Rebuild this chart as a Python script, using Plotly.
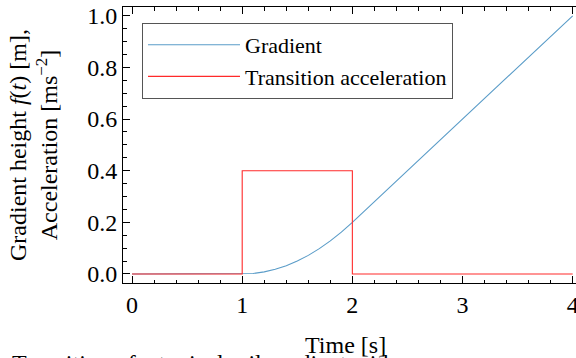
import plotly.graph_objects as go

# Gradient height f(t) [m]
grad_t = [0.0, 0.5, 1.0, 1.1, 1.2, 1.3, 1.4, 1.5, 1.6, 1.7, 1.8, 1.9, 2.0, 2.5, 3.0, 3.5, 4.0]
grad_f = [0.0, 0.0, 0.0, 0.002, 0.008, 0.018, 0.032, 0.05, 0.072, 0.098, 0.128, 0.162, 0.2, 0.4, 0.6, 0.8, 1.0]

# Transition acceleration [m s^-2] (step profile)
acc_t = [0.0, 1.0, 2.0, 4.0]
acc_a = [0.0, 0.4, 0.0, 0.0]

x_ticks = [0, 1, 2, 3, 4]
y_ticks = [0.0, 0.2, 0.4, 0.6, 0.8, 1.0]
y_tick_labels = ["0.0", "0.2", "0.4", "0.6", "0.8", "1.0"]

FONT = "Liberation Serif"
BLUE = "#5a9cc8"
RED = "#ff2a2a"

fig = go.Figure()
fig.add_trace(go.Scatter(x=grad_t, y=grad_f, mode="lines", name="Gradient",
                         line=dict(color=BLUE, width=1.1)))
fig.add_trace(go.Scatter(x=acc_t, y=acc_a, mode="lines", name="Transition acceleration",
                         line=dict(color=RED, width=1.1, shape="hv")))

W, H = 576, 358
L, R, T, B = 123, 0, 7, 75
pw, ph = W - L - R, H - T - B

def px_x(px):
    return (px - L) / pw

def px_y(py):
    return (H - B - py) / ph

axis_common = dict(
    showgrid=False, zeroline=False, showline=True, linecolor="black", linewidth=1,
    ticks="inside", ticklen=7, tickwidth=1, tickcolor="black", automargin=False,
    tickfont=dict(family=FONT, size=24, color="black"),
)

fig.update_xaxes(**axis_common, range=[-0.082, 4.03], tickmode="array", tickvals=x_ticks,
                 ticktext=[str(v) for v in x_ticks], mirror="ticks", ticklabeloverflow="allow",
                 minor=dict(ticks="inside", ticklen=3.5, tickwidth=1, tickcolor="black", dtick=0.2, tick0=0))
fig.update_yaxes(**axis_common, range=[-0.035, 1.034], tickmode="array", tickvals=y_ticks,
                 ticktext=y_tick_labels,
                 minor=dict(ticks="inside", ticklen=3.5, tickwidth=1, tickcolor="black", dtick=0.05, tick0=0))

fig.add_annotation(text="Gradient height <i>f</i>(<i>t</i>) [m],<br>Acceleration [ms<sup>−2</sup>]",
                   xref="paper", yref="paper", x=px_x(33), y=px_y(145), xanchor="center", yanchor="middle",
                   textangle=-90, showarrow=False, font=dict(family=FONT, size=24, color="black"))
fig.add_annotation(text="Time [s]", xref="paper", yref="paper", x=px_x(345), y=px_y(345),
                   xanchor="center", yanchor="middle", showarrow=False,
                   font=dict(family=FONT, size=24, color="black"))
fig.add_annotation(text="Transition of a typical rail gradient with", xref="paper", yref="paper",
                   x=px_x(10), y=px_y(348), xanchor="left", yanchor="top", showarrow=False,
                   font=dict(family=FONT, size=24, color="black"))

fig.update_layout(
    width=W, height=H, margin=dict(l=L, r=R, t=T, b=B, pad=0, autoexpand=False),
    paper_bgcolor="white", plot_bgcolor="white",
    showlegend=True,
    legend=dict(x=px_x(142), y=px_y(23), xanchor="left", yanchor="top",
                bgcolor="white", bordercolor="#555555", borderwidth=1,
                font=dict(family=FONT, size=22, color="black"),
                itemwidth=92),
)

fig.write_html("out.html", config={"displayModeBar": False},
               post_script="document.body.style.margin='0';document.body.style.overflow='hidden';")
